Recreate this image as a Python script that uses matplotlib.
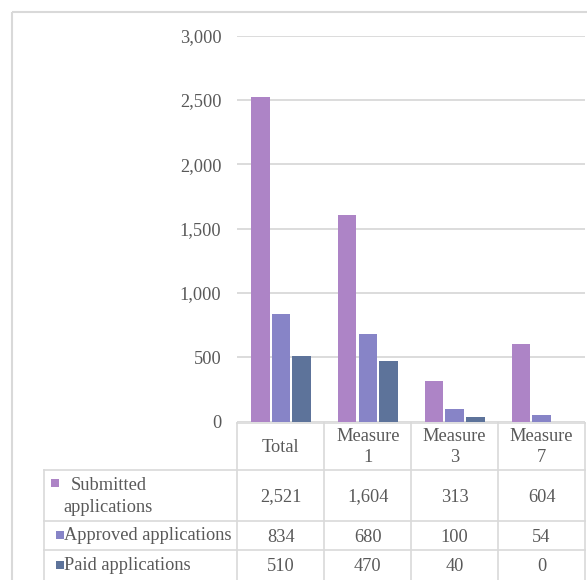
import matplotlib
matplotlib.use("Agg")
import matplotlib.pyplot as plt
from matplotlib.patches import Rectangle
import numpy as np

categories = ["Total", "Measure\n1", "Measure\n3", "Measure\n7"]
series_names = ["Submitted applications", "Approved applications", "Paid applications"]
submitted = [2521, 1604, 313, 604]
approved = [834, 680, 100, 54]
paid = [510, 470, 40, 0]
colors = ["#AD84C6", "#8784C7", "#5D739A"]
y_ticks = [0, 500, 1000, 1500, 2000, 2500, 3000]

plt.rcParams["font.family"] = ["Liberation Serif", "DejaVu Serif"]
TXT = "#595959"
GRID = "#d9d9d9"
FS = 13.2

W, H = 587, 580
fig = plt.figure(figsize=(W / 100, H / 100), dpi=100)

# layout in pixels
ax_left, ax_right = 237.3, 585.0
ax_top, ax_bottom = 35.7, 421.7
ax = fig.add_axes([ax_left / W, 1 - ax_bottom / H,
                   (ax_right - ax_left) / W, (ax_bottom - ax_top) / H])

series = [submitted, approved, paid]
x = np.arange(len(categories))
offsets = [-0.234, 0.0, 0.240]
for vals, off, c in zip(series, offsets, colors):
    ax.bar(x + off, vals, width=0.21, color=c, zorder=3)

ax.set_xlim(-0.5, len(categories) - 0.5)
ax.set_ylim(0, 3000)
ax.set_yticks(y_ticks)
ax.set_yticklabels([f"{v:,}" for v in y_ticks], fontsize=FS, color=TXT)
ax.set_xticks([])
ax.tick_params(axis="y", length=0, pad=11.5)
ax.grid(axis="y", color=GRID, linewidth=1.3, zorder=0)
for s in ax.spines.values():
    s.set_visible(False)
ax.patch.set_alpha(0)

# overlay for table and border
tab = fig.add_axes([0, 0, 1, 1], zorder=-1)
tab.set_xlim(0, W)
tab.set_ylim(H, 0)
tab.axis("off")

# outer border
tab.plot([12, 12], [12, H], color=GRID, lw=1.5, solid_capstyle="butt")
tab.plot([12, W], [12, 12], color=GRID, lw=1.5, solid_capstyle="butt")

ncat = len(categories)
col_edges = [ax_left + (ax_right - ax_left) * k / ncat for k in range(ncat + 1)]
label_left = 43.5
row_edges = [422.7, 469.6, 520.7, 550.0, 583.0]
lc = GRID
lw = 1.2
# header row
tab.plot([col_edges[0], col_edges[-1]], [row_edges[0]] * 2, color=lc, lw=lw)
for r in row_edges[1:]:
    tab.plot([label_left, col_edges[-1]], [r, r], color=lc, lw=lw)
for cx in col_edges:
    tab.plot([cx, cx], [row_edges[0], row_edges[-1]], color=lc, lw=lw)
tab.plot([label_left, label_left], [row_edges[1], row_edges[-1]], color=lc, lw=lw)

# header labels
for i, cat in enumerate(categories):
    cx = (col_edges[i] + col_edges[i + 1]) / 2
    lines = cat.split("\n")
    if len(lines) == 1:
        ys = [447.0]
    else:
        ys = [436.5, 457.7]
    for ln, yy in zip(lines, ys):
        tab.text(cx, yy, ln, ha="center", va="center", fontsize=FS, color=TXT)

# values
row_centers = [497.0, 537.0, 566.5]
for r, vals in enumerate(series):
    cy = row_centers[r]
    for i, v in enumerate(vals):
        cx = (col_edges[i] + col_edges[i + 1]) / 2
        tab.text(cx, cy, f"{v:,}", ha="center", va="center", fontsize=FS, color=TXT)

# row labels with legend keys
tab.add_patch(Rectangle((50.7, 478.8), 8.3, 8.3, color=colors[0], lw=0))
tab.text(70.5, 485.0, "Submitted", ha="left", va="center", fontsize=FS, color=TXT)
tab.text(63.8, 507.5, "applications", ha="left", va="center", fontsize=FS, color=TXT)
tab.add_patch(Rectangle((55.5, 530.5), 8.0, 8.3, color=colors[1], lw=0))
tab.text(64.0, 536.0, "Approved applications", ha="left", va="center", fontsize=FS, color=TXT)
tab.add_patch(Rectangle((55.5, 560.7), 8.0, 8.3, color=colors[2], lw=0))
tab.text(64.0, 565.5, "Paid applications", ha="left", va="center", fontsize=FS, color=TXT)

fig.savefig("out.png", dpi=100, facecolor="white")
